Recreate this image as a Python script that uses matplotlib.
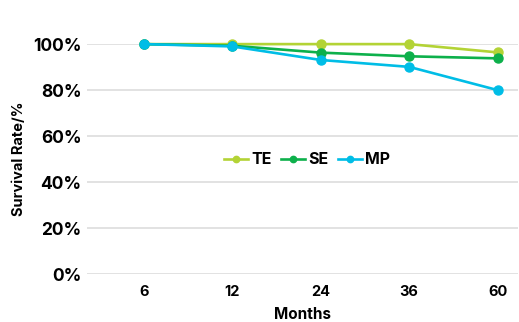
import matplotlib.pyplot as plt

months = ["6", "12", "24", "36", "60"]
te = [100, 100, 100, 100, 96.4]
se = [100, 99.3, 96.3, 94.7, 93.8]
mp = [100, 99.0, 93.1, 90.1, 80.0]

series = [("TE", te, "#b3d335"), ("SE", se, "#0db04b"), ("MP", mp, "#00bde6")]

plt.rcParams['font.family'] = ['Inter', 'DejaVu Sans']

fig = plt.figure(figsize=(5.19, 3.22), dpi=100)
ax = fig.add_axes([0.168, 0.149, 0.83, 0.714])

x = range(len(months))
for name, vals, col in series:
    ax.plot(x, vals, color=col, lw=1.9, marker='o', markersize=6.5, label=name, clip_on=False, zorder=3)

ax.set_xlim(-0.64, 4.23)
ax.set_ylim(0, 100)
ax.set_yticks([0, 20, 40, 60, 80, 100])
ax.set_yticklabels([f"{v}%" for v in range(0, 101, 20)], fontsize=12.5, fontweight='bold')
ax.set_xticks(list(x))
ax.set_xticklabels(months, fontsize=10.5, fontweight='bold')
ax.tick_params(length=0, pad=4)
ax.tick_params(axis='x', pad=8)
ax.grid(axis='y', color='#dddddd', lw=1.2)
ax.set_axisbelow(True)
for s in ax.spines.values():
    s.set_visible(False)

ax.set_xlabel("Months", fontsize=11, fontweight='bold', labelpad=6)
ax.set_ylabel("Survival Rate/%", fontsize=10.5, fontweight='bold', labelpad=5)

ax.legend(loc='center', bbox_to_anchor=(0.51, 0.496), ncol=3, frameon=False,
          prop={'weight': 'bold', 'size': 11.5}, handlelength=1.5, handletextpad=0.2,
          columnspacing=0.6, markerscale=0.7)

fig.savefig("out.png", dpi=100)
